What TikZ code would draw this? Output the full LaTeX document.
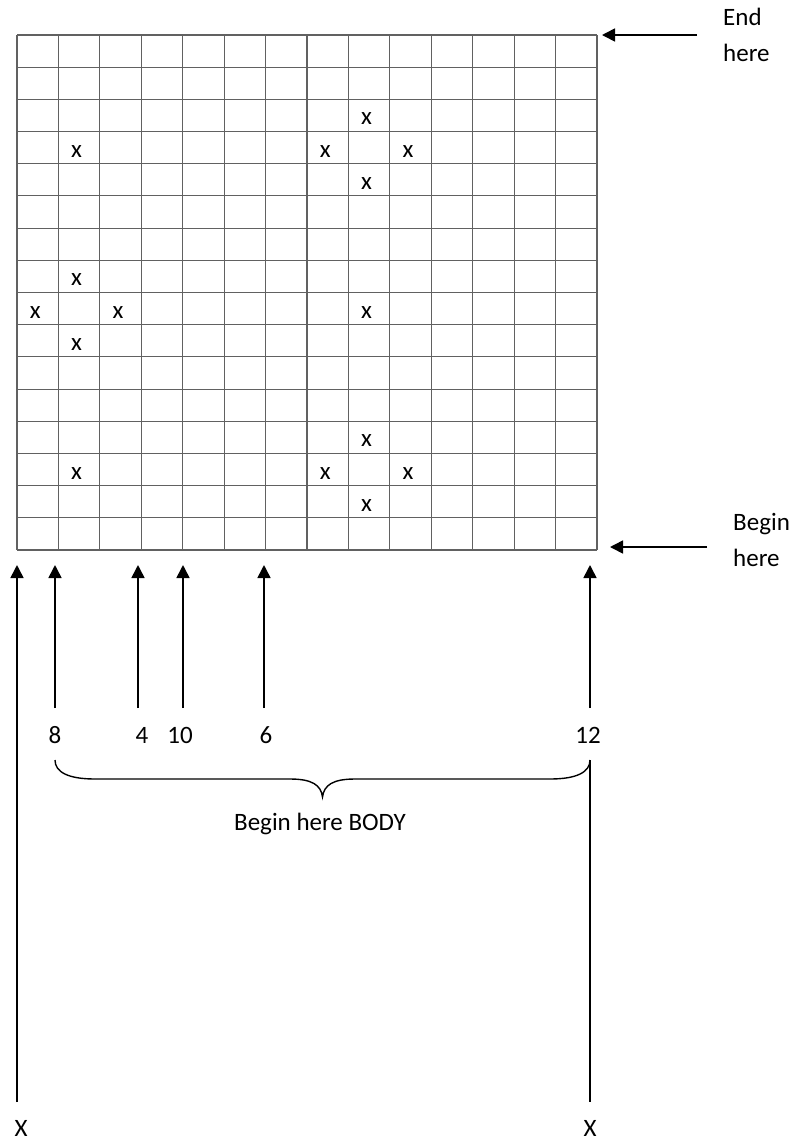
\documentclass[tikz,border=0pt]{standalone}
\usepackage{fontspec}
\setmainfont{Carlito}
\usetikzlibrary{arrows.meta}
\begin{document}
\begin{tikzpicture}[x=1pt,y=-1pt,
  gridline/.style={draw=black!62,line width=1.1pt},
  arr/.style={line width=1.6pt,-{Triangle[length=13pt,width=13pt]}},
  lbl/.style={font=\fontsize{25}{29}\selectfont,inner sep=0pt,anchor=base},
  sidelbl/.style={font=\fontsize{25}{29}\selectfont,inner sep=0pt,anchor=base west},
  xmark/.style={font=\fontsize{25}{29}\selectfont,inner sep=0pt},
  bracel/.style={line width=1.4pt}]
\useasboundingbox (0,0) rectangle (795,1141);
% grid
\foreach \i in {0,...,14} \draw[gridline] ({17+\i*41.4286},35) -- ({17+\i*41.4286},550);
\foreach \j in {0,...,16} \draw[gridline] (17,{35+\j*32.1875}) -- (597,{35+\j*32.1875});
% marks
\foreach \c/\r in {8/2,1/3,7/3,9/3,8/4,1/7,0/8,2/8,8/8,1/9,8/12,1/13,7/13,9/13,8/14}
  \node[xmark] (x\c-\r) at ({17+(\c+0.5)*41.4286-2.5},{35+(\r+0.5)*32.1875+3.5}) {x};
% side arrows
\coordinate (es) at (697,35); \coordinate (ee) at (602,35);
\coordinate (bs) at (707,547); \coordinate (be) at (610,547);
\draw[arr] (es) -- (ee);
\draw[arr] (bs) -- (be);
\node[sidelbl] (end1) at (723,25) {End};
\node[sidelbl] (end2) at (723,61.5) {here};
\node[sidelbl] (beg1) at (733,530) {Begin};
\node[sidelbl] (beg2) at (733,566.5) {here};
% bottom arrows
\foreach \n/\xx in {8/55,4/138,10/183,6/264,12/590}{
  \coordinate (b\n) at (\xx,708); \coordinate (t\n) at (\xx,565);
  \draw[arr] (b\n) -- (t\n);
}
\node[lbl] (n8) at (55,743) {8};
\node[lbl] (n4) at (142,743) {4};
\node[lbl] (n10) at (180,743) {10};
\node[lbl] (n6) at (266,743) {6};
\node[lbl] (n12) at (588,743) {12};
% long left arrow
\coordinate (lb) at (17,1102); \coordinate (lt) at (17,565);
\draw[arr] (lb) -- (lt);
\node[lbl] (xl) at (21,1136) {X};
% brace
\coordinate (bl) at (55,760); \coordinate (br) at (590,760);
\draw[bracel] (bl) .. controls (55,772) and (68,779) .. (95,779) -- (290,779)
  .. controls (312,779) and (321,785) .. (322.5,797)
  .. controls (324,785) and (333,779) .. (355,779) -- (550,779)
  .. controls (577,779) and (590,772) .. (br);
\node[lbl] (body) at (320,830) {Begin here BODY};
% right long line
\coordinate (rb) at (590,1102);
\draw[line width=1.6pt] (br) -- (rb);
\node[lbl] (xr) at (590,1136) {X};
\end{tikzpicture}
\end{document}
